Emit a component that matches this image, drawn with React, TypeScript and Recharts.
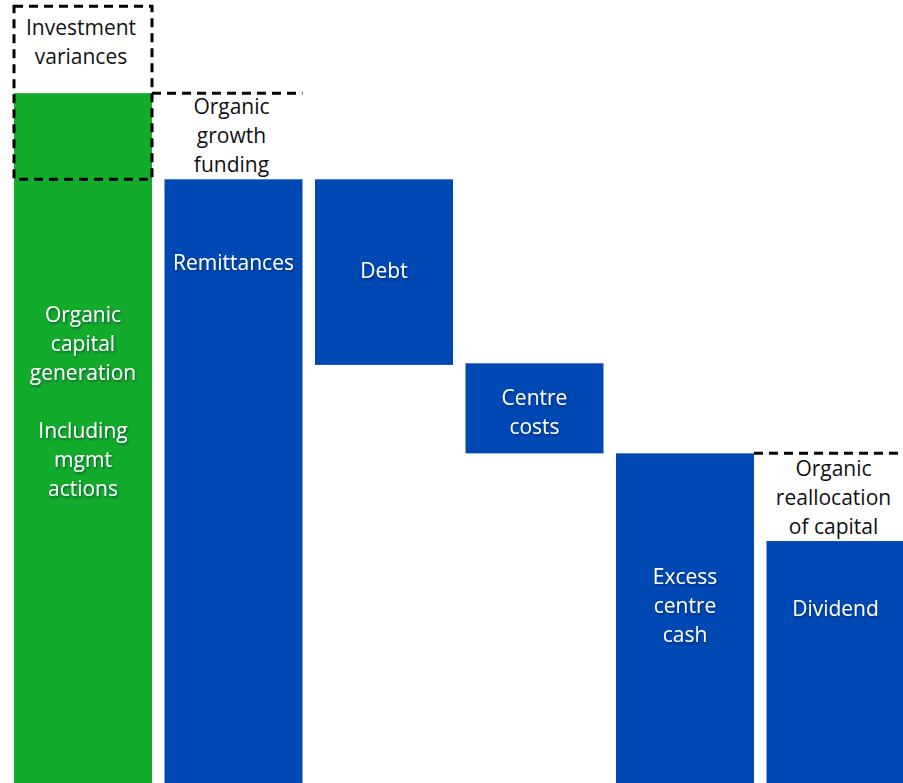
import React from "react";
import { BarChart, Bar, XAxis, YAxis } from "recharts";

// waterfall steps, values (0 = bottom of the chart)
const categories = ["Organic capital generation", "Remittances", "Debt", "Centre costs", "Excess centre cash", "Dividend"];
const lows = [0, 0, 53.4, 42.1, 0, 0];
const highs = [88.1, 77.1, 77.1, 53.6, 42.1, 30.9];
const barColors = ["#13AB2B", "#0048B4", "#0048B4", "#0048B4", "#0048B4", "#0048B4"];

// text shown inside each bar ("" = empty line)
const barLabels = [
  ["Organic", "capital", "generation", "", "Including", "mgmt", "actions"],
  ["Remittances"],
  ["Debt"],
  ["Centre", "costs"],
  ["Excess", "centre", "cash"],
  ["Dividend"],
];
// text shown above a bar
const noteLabels = [
  ["Investment", "variances"],
  ["Organic", "growth", "funding"],
  [],
  [],
  [],
  ["Organic", "reallocation", "of capital"],
];

// dashed outline around the investment variances part of the first bar
const varianceBox = [77.1, 99.2];
// dashed level line drawn across the top of a bar (previous running total)
const dashedLevels = [null, 88.1, null, null, null, 42.1];

// layout: where the label blocks sit, in value units
const labelCenters = [48.7, 66.4, 65.4, 47.4, 22.6, 22.3];
const noteCenters = [94.6, 82.7, null, null, null, 36.4];

const FONT = "'Open Sans', 'Noto Sans', sans-serif";
const FONT_SIZE = 21;
const LINE_H = 29;
const GAP = 12.5;

const data = categories.map((name, i) => ({
  name,
  range: [lows[i], highs[i]],
  color: barColors[i],
  labels: barLabels[i],
  notes: noteLabels[i],
  level: dashedLevels[i],
  labelAt: labelCenters[i],
  noteAt: noteCenters[i],
}));

function TextBlock({ lines, cx, cy, fill, shadow }: any) {
  const n = lines.length;
  return (
    <text
      x={cx}
      textAnchor="middle"
      fontFamily={FONT}
      fontSize={FONT_SIZE}
      fill={fill}
      filter={shadow ? "url(#txtShadow)" : undefined}
    >
      {lines.map((l: string, i: number) => (
        <tspan key={i} x={cx} y={cy + (i - (n - 1) / 2) * LINE_H} dy="0.35em">
          {l === "" ? " " : l}
        </tspan>
      ))}
    </text>
  );
}

function StepShape(props: any) {
  const { x, y, width, height, payload, index } = props;
  const [low, high] = payload.range;
  const ppu = height / (high - low);
  const toY = (v: number) => y + height - (v - low) * ppu;
  const cx = x + width / 2;
  return (
    <g>
      {index === 0 && (
        <defs>
          <filter id="txtShadow" x="-10%" y="-10%" width="130%" height="130%">
            <feDropShadow dx="1" dy="1.5" stdDeviation="1" floodColor="#001a40" floodOpacity="0.6" />
          </filter>
        </defs>
      )}
      <rect x={x} y={y} width={width} height={height} fill={payload.color} />
      {index === 0 && (
        <rect
          x={x}
          y={toY(varianceBox[1])}
          width={width}
          height={toY(varianceBox[0]) - toY(varianceBox[1])}
          fill="none"
          stroke="#000"
          strokeWidth={3}
          strokeDasharray="9 6"
        />
      )}
      {payload.level != null && (
        <line
          x1={x - GAP}
          x2={x + width}
          y1={toY(payload.level)}
          y2={toY(payload.level)}
          stroke="#000"
          strokeWidth={3}
          strokeDasharray="9 6"
        />
      )}
      <TextBlock lines={payload.labels} cx={cx} cy={toY(payload.labelAt)} fill="#fff" shadow />
      {payload.noteAt != null && (
        <TextBlock lines={payload.notes} cx={cx - 2} cy={toY(payload.noteAt)} fill="#111" />
      )}
    </g>
  );
}

export default function App() {
  return (
    <div style={{ position: "absolute", left: 0, top: 0, width: 903, height: 783, overflow: "hidden", background: "#fff" }}>
      <BarChart
        width={911}
        height={783}
        data={data}
        margin={{ top: 0, right: 0, bottom: 0, left: 8 }}
        barCategoryGap={0}
      >
        <XAxis dataKey="name" hide />
        <YAxis hide domain={[0, 100]} allowDataOverflow />
        <Bar dataKey="range" barSize={138} shape={StepShape} isAnimationActive={false} />
      </BarChart>
    </div>
  );
}
